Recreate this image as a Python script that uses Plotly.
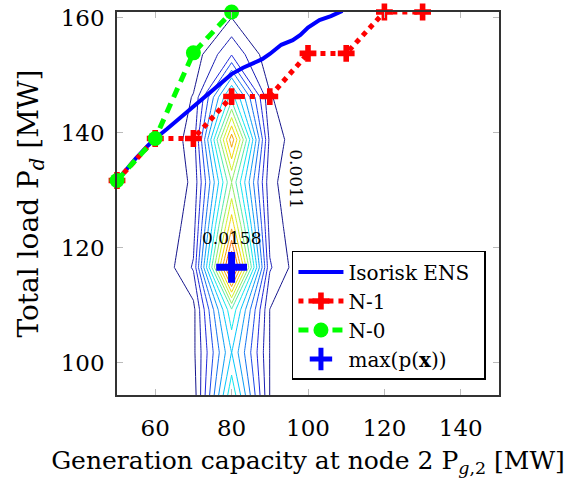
import plotly.graph_objects as go

# ---------------- data ----------------
gen_grid = [50, 60, 70, 80, 90, 100, 110, 120, 130, 140, 150]
load_grid = [94.4, 101.8, 109.2, 116.6, 124.0, 131.4, 138.8, 146.2, 153.6, 161.0]
density = [
    [0, 0, 0.00052, 0.0088, 0.00108, 0, 0, 0, 0, 0, 0],
    [0, 0, 0.00085, 0.0070, 0.00108, 0, 0, 0, 0, 0, 0],
    [0, 0, 0.00078, 0.0088, 0.00108, 0, 0, 0, 0, 0, 0],
    [0, 0, 0.0022, 0.0162, 0.0022, 0, 0, 0, 0, 0, 0],
    [0, 0, 0.00162, 0.0125, 0.00169, 0, 0, 0, 0, 0, 0],
    [0, 0, 0.00129, 0.0099, 0.00138, 0, 0, 0, 0, 0, 0],
    [0, 0, 0.00153, 0.0135, 0.0018, 0, 0, 0, 0, 0, 0],
    [0, 0, 0.00116, 0.0085, 0.0012, 0, 0, 0, 0, 0, 0],
    [0, 0, 0.0005, 0.0030, 0.0004, 0, 0, 0, 0, 0, 0],
    [0, 0, 0.0002, 0.0008, 0.0002, 0, 0, 0, 0, 0, 0],
]

iso_x = [50, 52, 55, 58, 60, 63, 66, 70, 73, 76, 80, 83, 86, 88, 90, 93, 96, 98, 100, 103, 106, 109]
iso_y = [131.7, 133.3, 135.6, 137.7, 139.0, 140.6, 142.3, 144.5, 146.2, 147.9, 150.2, 151.3,
         152.3, 152.8, 153.7, 155.3, 156.1, 157.0, 158.3, 159.6, 160.3, 161.2]

n1_x = [50, 60, 70, 80, 90, 100, 110, 120, 130]
n1_y = [131.7, 139.0, 139.0, 146.3, 146.3, 153.8, 153.8, 161.0, 161.0]

n0_x = [50, 60, 70, 80]
n0_y = [131.7, 139.0, 153.9, 161.0]

max_x = [80]
max_y = [116.6]

x_ticks = [60, 80, 100, 120, 140]
y_ticks = [100, 120, 140, 160]

# ---------------- figure ----------------
FONT = "DejaVu Serif"
jet = [
    [0.0, "rgb(20,20,140)"],
    [0.15, "rgb(30,40,230)"],
    [0.45, "rgb(0,230,255)"],
    [0.70, "rgb(240,240,0)"],
    [1.0, "rgb(255,0,0)"],
]

fig = go.Figure()

fig.add_trace(go.Contour(
    x=gen_grid, y=load_grid, z=density,
    contours=dict(coloring="lines", start=0.0011, end=0.01581, size=0.00098, showlabels=False),
    colorscale=jet, zmin=0.0011, zmax=0.0158,
    line=dict(width=1, smoothing=0),
    showscale=False, showlegend=False, hoverinfo="skip",
))

pad = "<span style='color:white'>_</span>"
fig.add_trace(go.Scatter(
    x=iso_x, y=iso_y, mode="lines", name="Isorisk ENS" + pad,
    line=dict(color="rgb(0,0,255)", width=4), legendrank=1, legendgroup="a",
))
fig.add_trace(go.Scatter(
    x=n1_x, y=n1_y, mode="lines+markers", name="N-1", cliponaxis=False,
    line=dict(color="rgb(255,0,0)", width=5, dash="5px,5px"),
    marker=dict(symbol="cross", size=14, color="rgb(255,0,0)"), legendrank=2, legendgroup="b",
))
fig.add_trace(go.Scatter(
    x=n0_x, y=n0_y, mode="lines+markers", name="N-0", cliponaxis=False,
    line=dict(color="rgb(0,255,0)", width=5, dash="10px,7px"),
    marker=dict(symbol="circle", size=15, color="rgb(0,255,0)"), legendrank=3, legendgroup="c",
))
fig.add_trace(go.Scatter(
    x=max_x, y=max_y, mode="markers", name="max(p(<b>x</b>))",
    marker=dict(symbol="cross-thin", size=22, color="rgb(0,0,255)",
                line=dict(width=7, color="rgb(0,0,255)")), legendrank=4, legendgroup="d",
))

fig.add_annotation(x=80, y=116.6, yshift=29, text="0.0158", showarrow=False,
                   font=dict(family=FONT, size=17, color="black"))
fig.add_annotation(x=97.0, y=132.0, text="0.0011", textangle=90, showarrow=False,
                   font=dict(family=FONT, size=17, color="black"))

axis_common = dict(
    showgrid=False, zeroline=False, showline=True, linecolor="#333", linewidth=1.5,
    mirror="allticks", ticks="inside", ticklen=6, tickcolor="#bbb", tickwidth=1,
    tickfont=dict(family=FONT, size=23, color="black"), automargin=False,
)

fig.update_layout(
    width=575, height=478,
    margin=dict(l=117, r=76, t=12, b=83),
    paper_bgcolor="white", plot_bgcolor="white",
    xaxis=dict(range=[50, 150], tickvals=x_ticks, ticklabelstandoff=12,
               title=dict(text="Generation capacity at node 2 P<sub><i>g</i>,2</sub> [MW]",
                          font=dict(family=FONT, size=25, color="black"), standoff=12),
               **axis_common),
    yaxis=dict(range=[94.4, 161.0], tickvals=y_ticks, ticklabelstandoff=6,
               title=dict(text="Total load P<sub><i>d</i></sub> [MW]",
                          font=dict(family=FONT, size=28, color="black"), standoff=14),
               **axis_common),
    legend=dict(x=0.458, y=0.376, xanchor="left", yanchor="top",
                bordercolor="black", borderwidth=1.5, bgcolor="white",
                font=dict(family=FONT, size=20, color="black"),
                itemwidth=45, traceorder="grouped", tracegroupgap=0),
    showlegend=True,
)

# remove the default 8px page margin so the figure fills the window exactly
fig.write_html("out.html", config={"displayModeBar": False},
               post_script="document.body.style.margin='0';document.body.style.overflow='hidden';")
